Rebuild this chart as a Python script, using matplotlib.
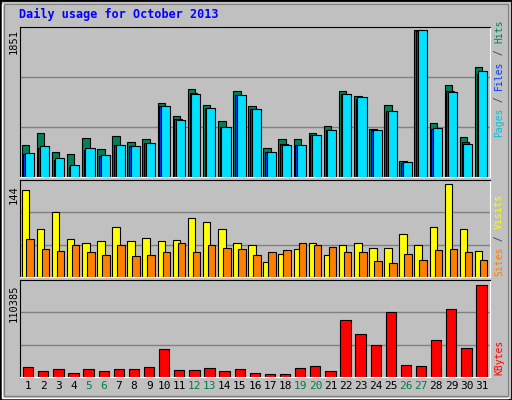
import matplotlib
matplotlib.use("Agg")
import matplotlib.pyplot as plt
from matplotlib.patches import Rectangle
import numpy as np

days = list(range(1, 32))
weekend = [5, 6, 12, 13, 19, 20, 26, 27]

k = 1851 / 441
hits_px = [96,132,75,69,117,84,123,105,114,222,183,264,216,168,258,213,87,114,114,132,153,258,243,144,216,48,441,162,276,120,330]
files_px = [69,87,51,30,81,63,96,93,102,213,174,252,207,149,246,204,75,99,96,126,141,249,234,141,198,42,438,144,258,105,309]
pages_px = [72,93,57,36,87,66,96,93,102,213,171,249,207,150,246,204,75,96,96,126,141,249,240,141,198,45,441,147,255,99,318]
hits = [round(v * k) for v in hits_px]
files = [round(v * k) for v in files_px]
pages = [round(v * k) for v in pages_px]

visits_z = [46,160,112,190,202,196,157,196,187,199,193,130,142,163,205,211,259,235,220,205,238,208,205,217,217,178,211,154,28,160,226]
sites_z = [190,220,226,211,229,238,211,241,238,229,205,229,208,217,220,238,232,223,202,211,214,229,229,256,262,235,253,223,220,229,253]
visits = [round((304 - z) / 276 * 144) for z in visits_z]
sites = [round((304 - z) / 276 * 144) for z in sites_z]

kb_z = [571,583,577,589,577,583,577,577,571,517,580,580,574,583,577,589,592,592,574,568,583,433,472,505,409,565,568,490,400,514,327]
kbytes = [round((602 - z) / 275 * 110385) for z in kb_z]

W, H = 512, 400
fig = plt.figure(figsize=(5.12, 4), dpi=100, facecolor="#C0C0C0")
fig.patches.append(Rectangle((0, 0), 1, 1, transform=fig.transFigure, fill=False, ec="black", lw=2))
fig.patches.append(Rectangle((2/W, 2/H), 1 - 6/W, 1 - 6/H, transform=fig.transFigure, fill=False, ec="white", lw=1))
fig.patches.append(Rectangle((4/W, 4/H), 1 - 8/W, 1 - 8/H, transform=fig.transFigure, fill=False, ec="#808080", lw=1))

def panel(y0, y1):
    ax = fig.add_axes([20/W, 1 - y1/H, 470/W, (y1 - y0)/H])
    ax.set_facecolor("#C0C0C0")
    ax.set_xlim(0.45, 31.55)
    ax.set_xticks([])
    ax.set_yticks([])
    for s in ax.spines.values():
        s.set_color("white")
    ax.spines["left"].set_color("black")
    ax.spines["top"].set_color("black")
    return ax

mono = "DejaVu Sans Mono"
x = np.array(days)
ek = dict(edgecolor="black", linewidth=0.8)

def ylab(txt, ytop):
    fig.text(19/W, 1 - ytop/H, txt, rotation=90, ha="right", va="top", fontsize=7.5, family=mono)

ax1 = panel(27, 177)
top1 = 1851 * 150 / 147
ax1.set_ylim(0, top1)
for g in (1/3, 2/3):
    ax1.axhline(top1 * g, color="#808080", lw=1, zorder=0)
ax1.bar(x - 0.45, hits, width=0.5, align="edge", color="#00805C", **ek)
ax1.bar(x - 0.33, files, width=0.5, align="edge", color="#0040FF", **ek)
ax1.bar(x - 0.22, pages, width=0.6, align="edge", color="#00E0FF", **ek)
ylab("1851", 29)

ax2 = panel(180, 277)
top2 = 144 * 96 / 92
ax2.set_ylim(0, top2)
for g in (1/3, 2/3):
    ax2.axhline(top2 * g, color="#808080", lw=1, zorder=0)
ax2.bar(x - 0.45, visits, width=0.5, align="edge", color="#FFFF00", **ek)
ax2.bar(x - 0.12, sites, width=0.5, align="edge", color="#FF8000", **ek)
ylab("144", 185)

ax3 = panel(280, 377)
top3 = 110385 * 97 / 92
ax3.set_ylim(0, top3)
for g in (1/3, 2/3):
    ax3.axhline(top3 * g, color="#808080", lw=1, zorder=0)
ax3.bar(x - 0.35, kbytes, width=0.68, align="edge", color="#FF0000", **ek)
ylab("110385", 284)

for d in days:
    ax3.text(d, -0.04, str(d), transform=ax3.get_xaxis_transform(), ha="center", va="top",
             fontsize=8, family=mono, color="#008040" if d in weekend else "black")

fs_side = 7
adv = 0.602 * fs_side * 100 / 72

def side(parts, y_bottom):
    y = y_bottom
    for txt, col in parts:
        fig.text(494/W, 1 - y/H, txt, rotation=90, ha="left", va="bottom",
                 fontsize=fs_side, family=mono, color=col)
        y -= len(txt) * adv

side([("Pages", "#00C0E0"), (" / ", "#404040"), ("Files", "#0040FF"), (" / ", "#404040"), ("Hits", "#00805C")], 137)
side([("Sites", "#FF8000"), (" / ", "#404040"), ("Visits", "#FFFF00")], 276)
side([("KBytes", "#FF0000")], 375)

fig.text(19/W, 1 - 14/H, "Daily usage for October 2013", fontsize=8.5, family=mono, weight="bold",
         color="#0000FF", va="center")

fig.savefig("out.png", dpi=100, facecolor=fig.get_facecolor())
